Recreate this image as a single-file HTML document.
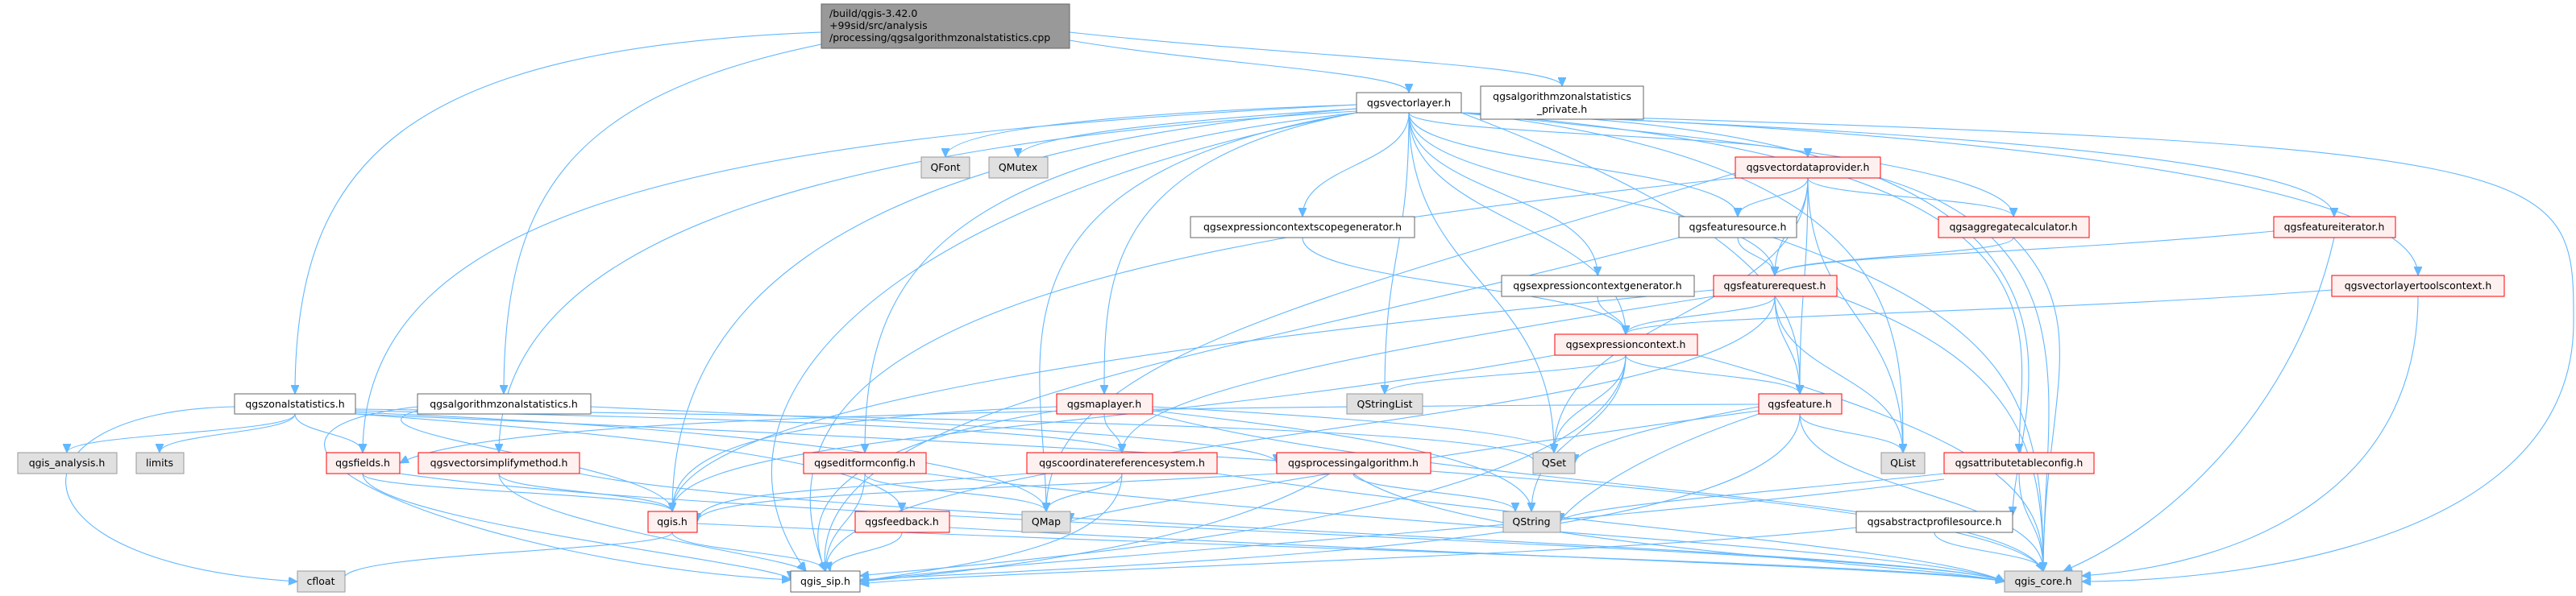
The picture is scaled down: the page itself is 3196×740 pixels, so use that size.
<!DOCTYPE html>
<html><head><meta charset="utf-8"><style>
html,body{margin:0;padding:0;background:#fff;}
svg{display:block;}
text{font-family:"DejaVu Sans","Liberation Sans",sans-serif;font-size:12.5px;fill:#000;}
.e{fill:none;stroke:#63b8ff;stroke-width:1.1;}
.w{fill:#fff;stroke:#666;stroke-width:1;}
.r{fill:#fff0f0;stroke:#f00;stroke-width:1;}
.g{fill:#e0e0e0;stroke:#999;stroke-width:1;}
</style></head><body>
<svg width="3196" height="740" viewBox="0 0 3196 740" xmlns="http://www.w3.org/2000/svg">
<defs><marker id="a" markerWidth="12" markerHeight="10" refX="11" refY="5" orient="auto" markerUnits="userSpaceOnUse"><path d="M0,0 L11,5 L0,10 z" fill="#63b8ff" stroke="#63b8ff"/></marker></defs>
<g class="e" marker-end="url(#a)">
<path d="M1019 40 C500 60 366 200 366 489"/>
<path d="M1019 55 C700 120 625 250 625 489"/>
<path d="M1327 50 C1500 80 1748 90 1748 115"/>
<path d="M1327 40 C1600 70 1938 80 1938 107"/>
<path d="M1683 130 C1400 140 1173 160 1173 195"/>
<path d="M1683 135 C1450 150 1263 170 1263 195"/>
<path d="M1748 140 C1748 168 2243 168 2243 195"/>
<path d="M1748 140 C1748 205 1616 205 1616 269"/>
<path d="M1748 140 C1748 205 2156 205 2156 269"/>
<path d="M1748 140 C1748 241 1982 241 1982 342"/>
<path d="M1748 140 C1748 241 2202 241 2202 342"/>
<path d="M1813 140 C2100 170 2498 205 2498 269"/>
<path d="M1813 140 C2300 160 2896 190 2896 269"/>
<path d="M1813 140 C2400 160 3000 220 3000 342"/>
<path d="M1748 140 C1748 278 2017 278 2017 415"/>
<path d="M1683 140 C1370 200 1370 350 1370 489"/>
<path d="M1748 140 C1748 315 1718 315 1718 489"/>
<path d="M1813 140 C2233 300 2233 400 2233 489"/>
<path d="M1683 130 C900 170 450 250 450 562"/>
<path d="M1683 138 C1000 180 619 300 619 562"/>
<path d="M1683 140 C1150 200 1073 350 1073 562"/>
<path d="M1683 140 C1200 220 1298 450 1298 635"/>
<path d="M1683 135 C1000 190 834 400 834 635"/>
<path d="M1748 140 C1748 351 1928 351 1928 562"/>
<path d="M1813 140 C2361 200 2361 400 2361 562"/>
<path d="M1813 140 C2600 200 2505 400 2505 562"/>
<path d="M1813 140 C2700 160 2497 500 2497 640"/>
<path d="M1813 140 C3193 180 3193 200 3193 400 C3193 700 2700 722 2583 722"/>
<path d="M1683 140 C1100 250 850 500 1000 709"/>
<path d="M2243 221 C2243 245 2156 245 2156 269"/>
<path d="M2243 221 C2243 281 2202 281 2202 342"/>
<path d="M2243 221 C2243 245 2498 245 2498 269"/>
<path d="M2243 221 C2243 355 2233 355 2233 489"/>
<path d="M2243 221 C2243 391 2361 391 2361 562"/>
<path d="M2243 221 C2243 391 1928 391 1928 562"/>
<path d="M2153 215 C1600 380 1298 450 1298 635"/>
<path d="M2333 221 C2600 300 2535 500 2535 709"/>
<path d="M2153 221 C1400 300 900 400 1024 709"/>
<path d="M2156 295 C2156 318 2202 318 2202 342"/>
<path d="M2200 295 C2500 400 2535 500 2535 709"/>
<path d="M2083 295 C1500 450 1000 500 1024 709"/>
<path d="M1616 295 C1616 355 2017 355 2017 415"/>
<path d="M1982 368 C1982 391 2017 391 2017 415"/>
<path d="M2202 368 C2202 391 2017 391 2017 415"/>
<path d="M2202 368 C2202 428 2233 428 2233 489"/>
<path d="M2202 368 C2202 465 2361 465 2361 562"/>
<path d="M2279 368 C2500 450 2535 550 2535 709"/>
<path d="M2202 368 C2202 538 1024 538 1024 709"/>
<path d="M2126 368 C1600 450 1392 500 1392 562"/>
<path d="M2126 360 C1500 420 834 501 834 635"/>
<path d="M2498 295 C2498 318 2202 318 2202 342"/>
<path d="M2498 295 C2600 400 2535 500 2535 709"/>
<path d="M2821 287 C2500 318 2202 318 2202 342"/>
<path d="M2896 295 C2850 500 2700 650 2560 709"/>
<path d="M2893 360 C2500 391 2017 391 2017 415"/>
<path d="M3000 368 C3000 600 2800 700 2583 715"/>
<path d="M2017 441 C2017 465 1718 465 1718 489"/>
<path d="M2017 441 C2017 501 1928 501 1928 562"/>
<path d="M2017 441 C2017 538 1900 538 1900 635"/>
<path d="M2017 441 C2017 465 2233 465 2233 489"/>
<path d="M2106 441 C2500 550 2535 620 2535 709"/>
<path d="M2017 441 C2017 650 1200 700 1067 715"/>
<path d="M1929 441 C1400 538 834 538 834 635"/>
<path d="M1370 514 C1370 538 1392 538 1392 562"/>
<path d="M1311 505 C900 520 834 575 834 635"/>
<path d="M1311 510 C1000 560 1000 650 1024 709"/>
<path d="M1430 505 C1700 520 1928 538 1928 562"/>
<path d="M1430 510 C1700 540 1900 575 1900 635"/>
<path d="M1430 514 C1800 611 2488 611 2535 709"/>
<path d="M2182 505 C2000 538 1954 562 1954 575"/>
<path d="M2233 514 C2233 538 2361 538 2361 562"/>
<path d="M2182 514 C2000 575 1936 640 1936 648"/>
<path d="M2182 510 C1700 575 1328 640 1328 648"/>
<path d="M2233 514 C2233 611 2535 611 2535 709"/>
<path d="M2233 514 C2233 680 1400 700 1067 720"/>
<path d="M2182 502 C1200 505 600 520 496 575"/>
<path d="M366 514 C366 538 83 538 83 562"/>
<path d="M366 514 C366 538 198 538 198 562"/>
<path d="M366 514 C366 538 450 538 450 562"/>
<path d="M291 505 C0 510 0 700 369 722"/>
<path d="M441 510 C1000 520 1392 538 1392 562"/>
<path d="M441 514 C800 540 1119 575 1119 635"/>
<path d="M441 512 C900 530 1298 575 1298 635"/>
<path d="M441 508 C1400 520 1928 538 1902 575"/>
<path d="M441 514 C1500 560 2488 611 2535 709"/>
<path d="M733 505 C1300 530 1584 550 1584 575"/>
<path d="M518 510 C400 540 834 575 834 635"/>
<path d="M518 505 C200 540 600 700 981 720"/>
<path d="M450 588 C450 611 834 611 834 635"/>
<path d="M450 588 C450 648 981 700 981 720"/>
<path d="M496 588 C900 648 2400 680 2487 722"/>
<path d="M619 588 C619 611 834 611 834 635"/>
<path d="M619 588 C619 648 981 690 1000 709"/>
<path d="M719 588 C1000 648 2400 680 2487 722"/>
<path d="M1073 588 C1073 611 1298 611 1298 635"/>
<path d="M1073 588 C1073 648 1024 648 1024 709"/>
<path d="M1149 588 C1600 648 2400 680 2487 722"/>
<path d="M1274 588 C1000 611 865 611 865 648"/>
<path d="M1392 588 C1392 611 1298 611 1298 635"/>
<path d="M1392 588 C1392 680 1200 700 1067 722"/>
<path d="M1510 588 C1900 648 2400 680 2487 722"/>
<path d="M1584 588 C1200 611 865 611 865 648"/>
<path d="M1679 588 C1679 611 1880 611 1880 635"/>
<path d="M1679 588 C1800 680 2400 700 2487 722"/>
<path d="M1650 588 C1500 680 1200 710 1067 722"/>
<path d="M2412 588 C2200 611 1936 630 1936 648"/>
<path d="M2412 595 C2000 650 1200 700 1067 722"/>
<path d="M2505 588 C2505 648 2535 648 2535 709"/>
<path d="M834 661 C834 685 398 685 428 722"/>
<path d="M834 661 C834 685 1024 685 1024 709"/>
<path d="M865 650 C1500 680 2400 700 2487 722"/>
<path d="M1119 661 C1119 685 1024 685 1030 709"/>
<path d="M1178 655 C1800 690 2400 705 2487 722"/>
<path d="M2303 655 C2000 690 1200 710 1067 725"/>
<path d="M2400 661 C2400 685 2535 685 2535 709"/>
</g>
<!-- nodes -->
<rect class="w" x="1019" y="5" width="308" height="55" style="fill:#999"/>
<text x="1029" y="21">/build/qgis-3.42.0</text>
<text x="1029" y="36">+99sid/src/analysis</text>
<text x="1029" y="51">/processing/qgsalgorithmzonalstatistics.cpp</text>

<rect class="w" x="1683" y="115" width="130" height="25"/><text x="1748" y="132" text-anchor="middle">qgsvectorlayer.h</text>
<rect class="w" x="1837" y="107" width="202" height="41"/><text x="1938" y="124" text-anchor="middle">qgsalgorithmzonalstatistics</text><text x="1938" y="140" text-anchor="middle">_private.h</text>
<rect class="w" x="291" y="489" width="150" height="25"/><text x="366" y="506" text-anchor="middle">qgszonalstatistics.h</text>
<rect class="w" x="518" y="489" width="215" height="25"/><text x="625" y="506" text-anchor="middle">qgsalgorithmzonalstatistics.h</text>
<rect class="g" x="1143" y="195" width="60" height="26"/><text x="1173" y="212" text-anchor="middle">QFont</text>
<rect class="g" x="1227" y="195" width="73" height="26"/><text x="1263" y="212" text-anchor="middle">QMutex</text>
<rect class="r" x="2153" y="195" width="180" height="26"/><text x="2243" y="212" text-anchor="middle">qgsvectordataprovider.h</text>
<rect class="w" x="1477" y="269" width="278" height="26"/><text x="1616" y="286" text-anchor="middle">qgsexpressioncontextscopegenerator.h</text>
<rect class="w" x="2083" y="269" width="146" height="26"/><text x="2156" y="286" text-anchor="middle">qgsfeaturesource.h</text>
<rect class="w" x="1863" y="342" width="239" height="26"/><text x="1982" y="359" text-anchor="middle">qgsexpressioncontextgenerator.h</text>
<rect class="r" x="2126" y="342" width="153" height="26"/><text x="2202" y="359" text-anchor="middle">qgsfeaturerequest.h</text>
<rect class="r" x="2405" y="269" width="187" height="26"/><text x="2498" y="286" text-anchor="middle">qgsaggregatecalculator.h</text>
<rect class="r" x="2821" y="269" width="151" height="26"/><text x="2896" y="286" text-anchor="middle">qgsfeatureiterator.h</text>
<rect class="r" x="2893" y="342" width="214" height="26"/><text x="3000" y="359" text-anchor="middle">qgsvectorlayertoolscontext.h</text>
<rect class="r" x="1929" y="415" width="177" height="26"/><text x="2017" y="432" text-anchor="middle">qgsexpressioncontext.h</text>
<rect class="r" x="1311" y="489" width="119" height="25"/><text x="1370" y="506" text-anchor="middle">qgsmaplayer.h</text>
<rect class="g" x="1671" y="489" width="94" height="25"/><text x="1718" y="506" text-anchor="middle">QStringList</text>
<rect class="r" x="2182" y="489" width="103" height="25"/><text x="2233" y="506" text-anchor="middle">qgsfeature.h</text>
<rect class="g" x="22" y="562" width="123" height="26"/><text x="83" y="579" text-anchor="middle">qgis_analysis.h</text>
<rect class="g" x="169" y="562" width="59" height="26"/><text x="198" y="579" text-anchor="middle">limits</text>
<rect class="r" x="405" y="562" width="91" height="26"/><text x="450" y="579" text-anchor="middle">qgsfields.h</text>
<rect class="r" x="519" y="562" width="200" height="26"/><text x="619" y="579" text-anchor="middle">qgsvectorsimplifymethod.h</text>
<rect class="r" x="997" y="562" width="152" height="26"/><text x="1073" y="579" text-anchor="middle">qgseditformconfig.h</text>
<rect class="r" x="1274" y="562" width="236" height="26"/><text x="1392" y="579" text-anchor="middle">qgscoordinatereferencesystem.h</text>
<rect class="r" x="1584" y="562" width="191" height="26"/><text x="1679" y="579" text-anchor="middle">qgsprocessingalgorithm.h</text>
<rect class="g" x="1902" y="562" width="52" height="26"/><text x="1928" y="579" text-anchor="middle">QSet</text>
<rect class="g" x="2334" y="562" width="54" height="26"/><text x="2361" y="579" text-anchor="middle">QList</text>
<rect class="r" x="2412" y="562" width="186" height="26"/><text x="2505" y="579" text-anchor="middle">qgsattributetableconfig.h</text>
<rect class="r" x="804" y="635" width="61" height="26"/><text x="834" y="652" text-anchor="middle">qgis.h</text>
<rect class="r" x="1061" y="635" width="117" height="26"/><text x="1119" y="652" text-anchor="middle">qgsfeedback.h</text>
<rect class="g" x="1268" y="635" width="60" height="26"/><text x="1298" y="652" text-anchor="middle">QMap</text>
<rect class="g" x="1865" y="635" width="71" height="26"/><text x="1900" y="652" text-anchor="middle">QString</text>
<rect class="w" x="2303" y="635" width="194" height="26"/><text x="2400" y="652" text-anchor="middle">qgsabstractprofilesource.h</text>
<rect class="g" x="369" y="709" width="59" height="26"/><text x="398" y="726" text-anchor="middle">cfloat</text>
<rect class="w" x="981" y="709" width="86" height="26"/><text x="1024" y="726" text-anchor="middle">qgis_sip.h</text>
<rect class="g" x="2487" y="709" width="96" height="26"/><text x="2535" y="726" text-anchor="middle">qgis_core.h</text>
</svg>
</body></html>
